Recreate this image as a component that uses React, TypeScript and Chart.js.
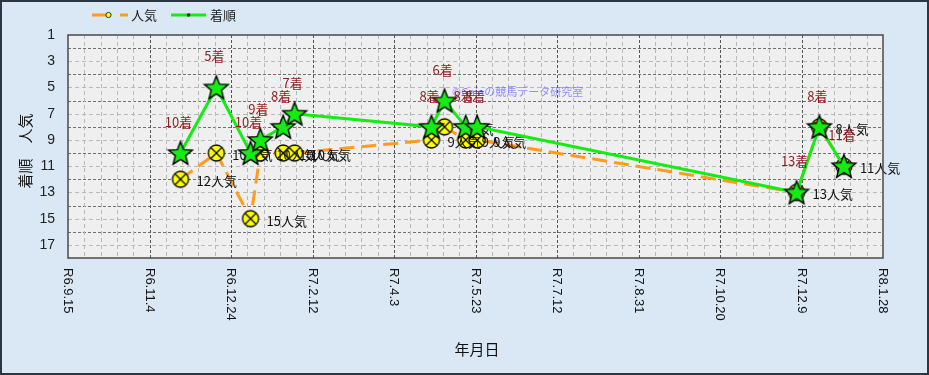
import React, { useEffect, useRef } from 'react';
import { Chart, registerables } from 'chart.js';

Chart.register(...registerables);

// ---- data ----
const BASE_DATE = '2024-09-15';
const raceDates = [
  '2024-11-23', '2024-12-15', '2025-01-05', '2025-01-11', '2025-01-25', '2025-02-01',
  '2025-04-26', '2025-05-04', '2025-05-17', '2025-05-24',
  '2025-12-06', '2025-12-20', '2026-01-04',
];
const finishPositions = [10, 5, 10, 9, 8, 7, 8, 6, 8, 8, 13, 8, 11];
const popularity = [12, 10, 15, 10, 10, 10, 9, 8, 9, 9, 13, 8, 11];
const xTickLabels = [
  'R6.9.15', 'R6.11.4', 'R6.12.24', 'R7.2.12', 'R7.4.3', 'R7.5.23',
  'R7.7.12', 'R7.8.31', 'R7.10.20', 'R7.12.9', 'R8.1.28',
];
const xTickStepDays = 50;
const yTickValues = [1, 3, 5, 7, 9, 11, 13, 15, 17];
const seriesNames = ['着順', '人気'];
const finishSuffix = '着';
const popularitySuffix = '人気';
const xTitle = '年月日';
const yTitle = '着順　人気';
const watermark = '©Gaiaの競馬データ研究室';

const dayOffset = (s: string) =>
  Math.round((Date.parse(s + 'T00:00:00Z') - Date.parse(BASE_DATE + 'T00:00:00Z')) / 86400000);

const W = 929;
const H = 375;
const JP = "'Noto Sans CJK JP', 'Noto Sans', sans-serif";
const GREEN = '#14ec14';
const ORANGE = '#ff9c1c';

function makeStar(): HTMLCanvasElement {
  const c = document.createElement('canvas');
  c.width = 28;
  c.height = 28;
  const g = c.getContext('2d')!;
  const cx = 14, cy = 15, R = 12.5, r = 5.4;
  g.beginPath();
  for (let i = 0; i < 10; i++) {
    const rad = i % 2 === 0 ? R : r;
    const a = -Math.PI / 2 + (i * Math.PI) / 5;
    const px = cx + rad * Math.cos(a);
    const py = cy + rad * Math.sin(a);
    if (i === 0) g.moveTo(px, py);
    else g.lineTo(px, py);
  }
  g.closePath();
  g.fillStyle = GREEN;
  g.fill();
  g.lineWidth = 1.4;
  g.strokeStyle = '#000';
  g.stroke();
  return c;
}

function makeCircle(): HTMLCanvasElement {
  const c = document.createElement('canvas');
  c.width = 20;
  c.height = 20;
  const g = c.getContext('2d')!;
  const cx = 10, cy = 10, r = 8;
  g.beginPath();
  g.arc(cx, cy, r, 0, Math.PI * 2);
  g.fillStyle = '#ffff00';
  g.fill();
  g.lineWidth = 1.3;
  g.strokeStyle = '#000';
  g.stroke();
  const d = r * 0.72;
  g.beginPath();
  g.moveTo(cx - d, cy - d);
  g.lineTo(cx + d, cy + d);
  g.moveTo(cx + d, cy - d);
  g.lineTo(cx - d, cy + d);
  g.lineWidth = 1.2;
  g.stroke();
  return c;
}

const decorPlugin = {
  id: 'decor',
  beforeDraw(chart: any) {
    const { ctx, chartArea: a, scales } = chart;
    const x = scales.x;
    const y = scales.y;
    ctx.save();
    ctx.fillStyle = '#dae8f5';
    ctx.fillRect(0, 0, W, H);
    ctx.fillStyle = '#efefef';
    ctx.fillRect(a.left, a.top, a.right - a.left, a.bottom - a.top);
    for (let v = Math.ceil(y.min) + 1; v < y.max; v++) {
      const py = Math.round(y.getPixelForValue(v)) + 0.5;
      const even = v % 2 === 0;
      ctx.strokeStyle = even ? '#707070' : '#b8b8b8';
      ctx.setLineDash(even ? [3, 2] : [4, 3]);
      ctx.lineWidth = 1;
      ctx.beginPath();
      ctx.moveTo(a.left, py);
      ctx.lineTo(a.right, py);
      ctx.stroke();
    }
    for (let d = 10; d < x.max; d += 10) {
      const px = Math.round(x.getPixelForValue(d)) + 0.5;
      const major = d % xTickStepDays === 0;
      ctx.strokeStyle = major ? '#555555' : '#b8b8b8';
      ctx.setLineDash(major ? [3, 2] : [4, 3]);
      ctx.lineWidth = 1;
      ctx.beginPath();
      ctx.moveTo(px, a.top);
      ctx.lineTo(px, a.bottom);
      ctx.stroke();
    }
    ctx.setLineDash([]);
    ctx.restore();
  },
  beforeDatasetsDraw(chart: any) {
    const { ctx } = chart;
    ctx.save();
    ctx.font = `11px ${JP}`;
    ctx.fillStyle = 'rgba(110,110,255,0.75)';
    ctx.textAlign = 'left';
    ctx.textBaseline = 'middle';
    ctx.fillText(watermark, 452, 92);
    ctx.restore();
  },
  afterDatasetDraw(chart: any, args: any) {
    const { ctx } = chart;
    const meta = chart.getDatasetMeta(args.index);
    ctx.save();
    ctx.font = `13px ${JP}`;
    ctx.textBaseline = 'middle';
    if (args.index === 0) {
      ctx.fillStyle = '#8e1c1c';
      ctx.textAlign = 'center';
      meta.data.forEach((pt: any, i: number) => {
        ctx.fillText(`${finishPositions[i]}${finishSuffix}`, pt.x - 2, pt.y - 31);
      });
    } else {
      ctx.fillStyle = '#111';
      ctx.textAlign = 'left';
      meta.data.forEach((pt: any, i: number) => {
        ctx.fillText(`${popularity[i]}${popularitySuffix}`, pt.x + 16, pt.y + 2);
      });
    }
    ctx.restore();
  },
  afterDraw(chart: any) {
    const { ctx, chartArea: a, scales } = chart;
    const x = scales.x;
    ctx.save();
    ctx.strokeStyle = '#4a4a4a';
    ctx.lineWidth = 1.5;
    ctx.strokeRect(a.left, a.top, a.right - a.left, a.bottom - a.top);
    ctx.font = "13px 'Liberation Sans', Arial, sans-serif";
    ctx.fillStyle = '#111';
    ctx.textAlign = 'left';
    ctx.textBaseline = 'middle';
    xTickLabels.forEach((lab, i) => {
      const px = x.getPixelForValue(i * xTickStepDays);
      ctx.save();
      ctx.translate(px, a.bottom + 10);
      ctx.rotate(Math.PI / 2);
      ctx.fillText(lab, 0, 0);
      ctx.restore();
    });
    ctx.font = `15px ${JP}`;
    ctx.textAlign = 'center';
    ctx.fillStyle = '#111';
    ctx.fillText(xTitle, 477, 349);
    ctx.save();
    ctx.translate(25, 151);
    ctx.rotate(-Math.PI / 2);
    ctx.fillText(yTitle, 0, 0);
    ctx.restore();
    // legend
    ctx.lineWidth = 3;
    ctx.strokeStyle = ORANGE;
    ctx.beginPath();
    ctx.moveTo(92, 15);
    ctx.lineTo(106, 15);
    ctx.moveTo(120, 15);
    ctx.lineTo(128, 15);
    ctx.stroke();
    ctx.beginPath();
    ctx.arc(108.5, 15, 2.6, 0, Math.PI * 2);
    ctx.fillStyle = '#ffff00';
    ctx.fill();
    ctx.lineWidth = 1;
    ctx.strokeStyle = '#333';
    ctx.stroke();
    ctx.lineWidth = 3;
    ctx.strokeStyle = GREEN;
    ctx.beginPath();
    ctx.moveTo(171, 15);
    ctx.lineTo(206, 15);
    ctx.stroke();
    ctx.fillStyle = '#222';
    ctx.beginPath();
    ctx.arc(188.5, 15, 1.8, 0, Math.PI * 2);
    ctx.fill();
    ctx.font = `13px ${JP}`;
    ctx.fillStyle = '#222';
    ctx.textAlign = 'left';
    ctx.fillText(seriesNames[1], 131, 15);
    ctx.fillText(seriesNames[0], 210, 15);
    ctx.strokeStyle = '#2c3640';
    ctx.lineWidth = 2;
    ctx.strokeRect(1, 1, W - 2, H - 2);
    ctx.restore();
  },
};

export default function App() {
  const ref = useRef<HTMLCanvasElement | null>(null);

  useEffect(() => {
    document.body.style.margin = '0';
    const canvas = ref.current;
    if (!canvas) return;
    const star = makeStar();
    const circle = makeCircle();
    const days = raceDates.map(dayOffset);
    const chart = new Chart(canvas, {
      type: 'line',
      data: {
        datasets: [
          {
            label: seriesNames[0],
            data: days.map((d, i) => ({ x: d, y: finishPositions[i] })),
            borderColor: GREEN,
            borderWidth: 3,
            pointStyle: star as any,
            pointRadius: 12,
            pointHoverRadius: 12,
            tension: 0,
            fill: false,
          },
          {
            label: seriesNames[1],
            data: days.map((d, i) => ({ x: d, y: popularity[i] })),
            borderColor: ORANGE,
            borderWidth: 3,
            borderDash: [15, 7],
            pointStyle: circle as any,
            pointRadius: 8,
            pointHoverRadius: 8,
            tension: 0,
            fill: false,
          },
        ],
      },
      options: {
        animation: false,
        responsive: false,
        devicePixelRatio: 1,
        events: [],
        layout: { padding: { top: 35, right: 46, left: 0, bottom: 0 } },
        plugins: {
          legend: { display: false },
          tooltip: { enabled: false },
        },
        scales: {
          x: {
            type: 'linear',
            min: 0,
            max: xTickStepDays * (xTickLabels.length - 1),
            afterBuildTicks: (s: any) => {
              s.ticks = xTickLabels.map((_, i) => ({ value: i * xTickStepDays }));
            },
            afterFit: (s: any) => {
              s.height = 117;
            },
            ticks: { display: false },
            grid: { display: false },
            border: { display: false },
          },
          y: {
            type: 'linear',
            reverse: true,
            min: 1,
            max: 18,
            afterBuildTicks: (s: any) => {
              s.ticks = yTickValues.map((v) => ({ value: v }));
            },
            afterFit: (s: any) => {
              s.width = 68;
            },
            ticks: {
              padding: 13,
              color: '#222',
              font: { family: "'Liberation Sans Narrow', 'Liberation Sans', Arial, sans-serif", size: 14 },
            },
            grid: { display: false, drawTicks: false },
            border: { display: false },
          },
        },
      },
      plugins: [decorPlugin],
    } as any);
    return () => chart.destroy();
  }, []);

  return (
    <div style={{ width: W, height: H }}>
      <canvas ref={ref} width={W} height={H} style={{ display: 'block' }} />
    </div>
  );
}
